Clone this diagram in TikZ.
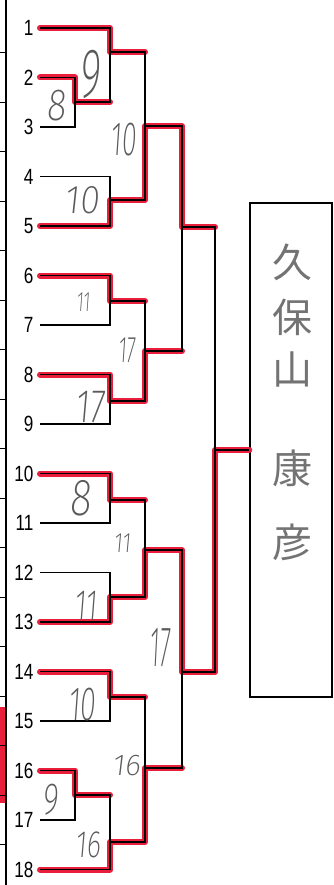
\documentclass[tikz,border=0pt]{standalone}
\usepackage{fontspec}
\usepackage{graphicx}
\newfontfamily\numfont{Liberation Sans}
\newfontfamily\jpfont{Noto Sans CJK JP}
\newfontfamily\handfont{Fira Sans ExtraLight}[FakeSlant=0.12]
\usetikzlibrary{positioning,calc}
\definecolor{marker}{RGB}{232,30,58}
\definecolor{pencil}{RGB}{90,90,90}
\tikzset{every picture/.style={line width=1.3pt}}
\tikzset{
  winner/.style={marker, line width=6pt, line cap=round, line join=round},
  entrynum/.style={anchor=east, inner sep=0pt, font=\numfont\fontsize{22}{22}\selectfont},
  score/.style={pencil, inner sep=0pt, font=\handfont},
  namechar/.style={pencil!85, inner sep=0pt, font=\jpfont\fontsize{40}{40}\selectfont},
  namebox/.style={draw, line width=1.4pt, minimum width=82pt, minimum height=494pt, inner sep=0pt},
}
\newcommand{\hand}[3]{\scalebox{#2}[1]{\fontsize{#1}{#1}\selectfont #3}}

\begin{document}
\begin{tikzpicture}[x=1pt, y=-1pt]
    \useasboundingbox (0,0) rectangle (333,885);

    % Edge of the next sheet
    \fill[marker] (0,707) rectangle (6,803);
    \draw[line width=1.6pt] (6,0) -- (6,885);
    \foreach \k in {0,...,16} {
        \draw (0,{52.7+49.5*\k}) -- (6,{52.7+49.5*\k});
    }

    % Entries
    \foreach \i in {1,...,18} {
        \node[entrynum] (n\i) at (34,{28+49.5*(\i-1)}) {\scalebox{0.78}[1]{\i}};
        \coordinate (e\i) at (40,{28+49.5*(\i-1)});
    }

    % Match points
    \coordinate (w23) at (75,102);
    \coordinate (w1) at (110,52);
    \coordinate (w45) at (110,200);
    \coordinate (w67) at (110,301);
    \coordinate (w89) at (110,401);
    \coordinate (w1011) at (110,500);
    \coordinate (w1213) at (110,597);
    \coordinate (w1415) at (110,697);
    \coordinate (w1617) at (75,795);
    \coordinate (w18) at (110,842);
    \coordinate (qa) at (145,126);
    \coordinate (qb) at (145,351);
    \coordinate (qc) at (145,550);
    \coordinate (qd) at (145,768);
    \coordinate (sa) at (182,227);
    \coordinate (sb) at (182,672);
    \coordinate (fin) at (215,450);

    % Champion
    \node[namebox] (champ) at (291,450) {};
    \foreach \ch/\yy [count=\k] in {久/262, 保/317, 山/369, 康/468, 彦/542} {
        \node[namechar] (k\k) at (292,\yy) {\ch};
    }

    % Winners (marker)
    \draw[winner] (e1) -| (w1) -- (w1 -| qa);
    \draw[winner] (e2) -| (w23) -- (w23 -| w1);
    \draw[winner] (e5) -| (w45) -| (qa) -| (sa) -- (sa -| fin);
    \draw[winner] (e6) -| (w67) -- (w67 -| qb);
    \draw[winner] (e8) -| (w89) -| (qb) -- (qb -| sa);
    \draw[winner] (e10) -| (w1011) -- (w1011 -| qc);
    \draw[winner] (e13) -| (w1213) -| (qc) -| (sb) -| (fin) -- (champ.west);
    \draw[winner] (e14) -| (w1415) -- (w1415 -| qd);
    \draw[winner] (e16) -| (w1617) -- (w1617 -| w18);
    \draw[winner] (e18) -| (w18) -| (qd) -- (qd -| sb);

    % Brackets
    \draw (e2) -| (w23) |- (e3);
    \draw (w23) -| (w1) |- (e1);
    \draw (e4) -| (w45) |- (e5);
    \draw (w1) -| (qa) |- (w45);
    \draw (e6) -| (w67) |- (e7);
    \draw (e8) -| (w89) |- (e9);
    \draw (w67) -| (qb) |- (w89);
    \draw (qa) -| (sa) |- (qb);
    \draw (e10) -| (w1011) |- (e11);
    \draw (e12) -| (w1213) |- (e13);
    \draw (w1011) -| (qc) |- (w1213);
    \draw (e14) -| (w1415) |- (e15);
    \draw (e16) -| (w1617) |- (e17);
    \draw (w1617) -| (w18) |- (e18);
    \draw (w1415) -| (qd) |- (w18);
    \draw (qc) -| (sb) |- (qd);
    \draw (sa) -| (fin) |- (sb);
    \draw (fin) -- (champ.west);

    % Scores (pencil)
    \node[score] (sc1) at (90,75) {\hand{70}{0.57}{9}};
    \node[score] (sc2) at (56,106) {\hand{45}{0.8}{8}};
    \node[score] (sc3) at (123,140) {\hand{48}{0.56}{10}};
    \node[score] (sc4) at (82,200) {\hand{40}{0.9}{10}};
    \node[score] (sc5) at (83,302) {\hand{28}{0.6}{11}};
    \node[score] (sc6) at (127,350) {\hand{37}{0.54}{17}};
    \node[score] (sc7) at (90,407) {\hand{47}{0.72}{17}};
    \node[score] (sc8) at (80,498) {\hand{52}{0.77}{8}};
    \node[score] (sc9) at (122,543) {\hand{28}{0.75}{11}};
    \node[score] (sc10) at (86,606) {\hand{44}{0.64}{11}};
    \node[score] (sc11) at (160,648) {\hand{57}{0.42}{17}};
    \node[score] (sc12) at (82,705) {\hand{48}{0.6}{10}};
    \node[score] (sc13) at (126,766) {\hand{30}{1.0}{16}};
    \node[score] (sc14) at (50,800) {\hand{45}{0.67}{9}};
    \node[score] (sc15) at (88,845) {\hand{38}{0.71}{16}};
\end{tikzpicture}
\end{document}
